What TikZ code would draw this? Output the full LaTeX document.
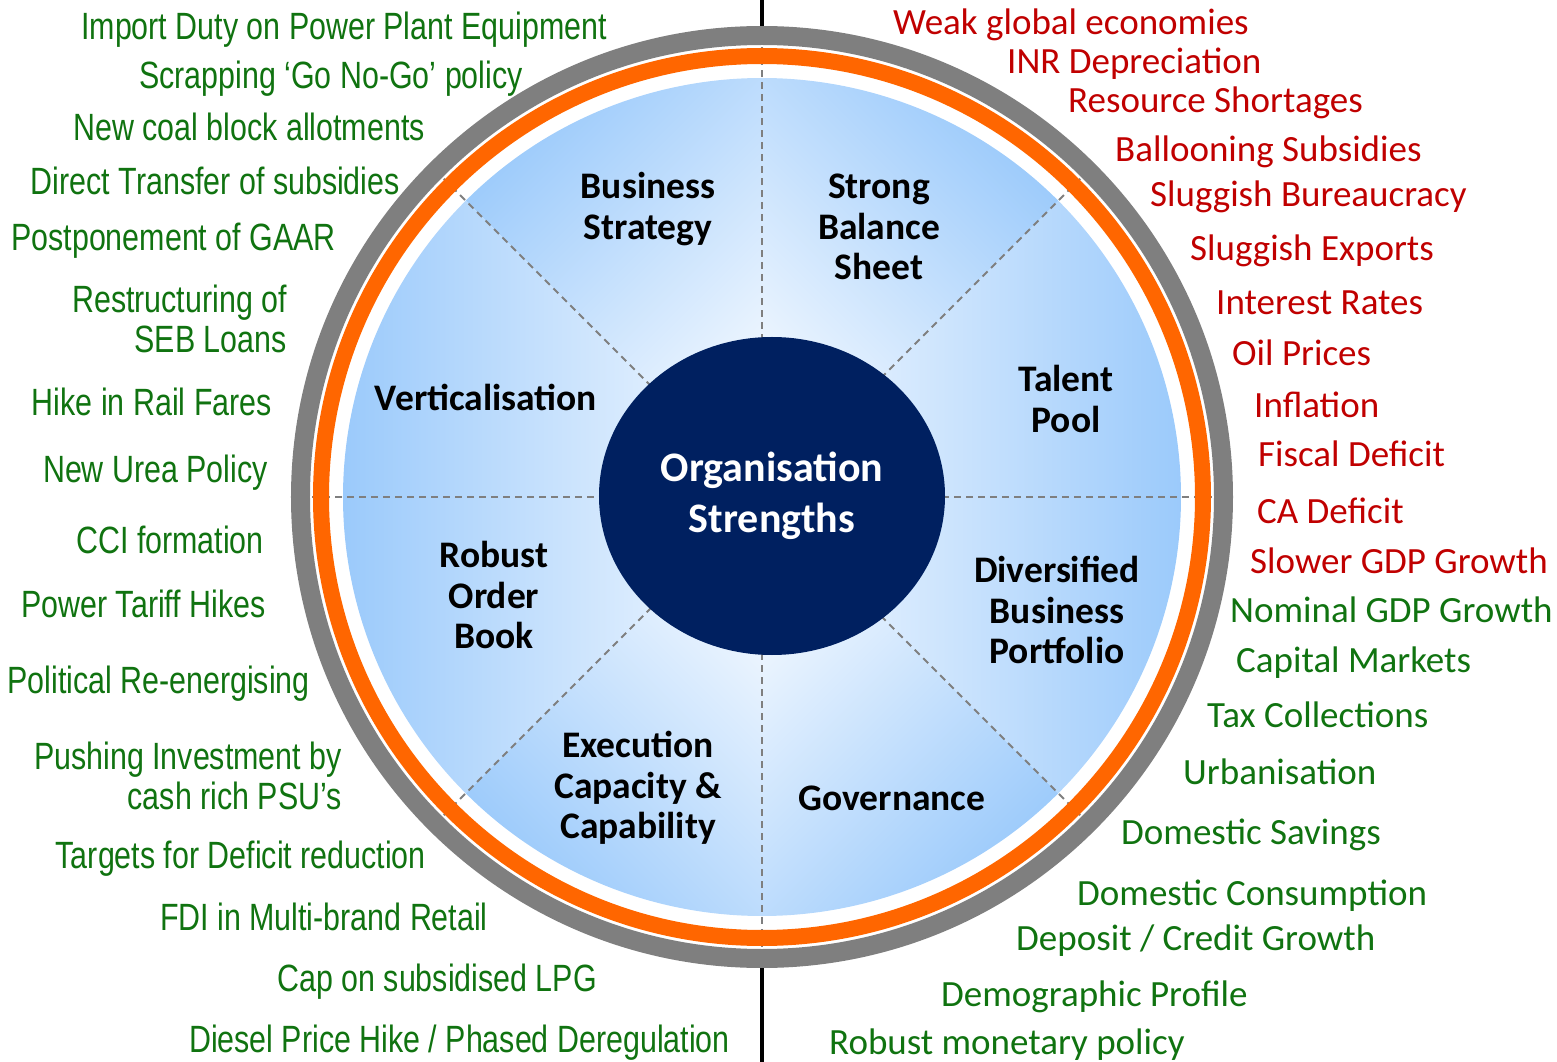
\documentclass[tikz,border=0pt]{standalone}
\usepackage{fontspec}
\setmainfont{Carlito}
\newfontfamily\narrowfont[FakeStretch=0.8]{Liberation Sans}
\usetikzlibrary{shapes.geometric}
\definecolor{ringgray}{RGB}{127,127,127}
\definecolor{ringorange}{RGB}{255,102,0}
\definecolor{skyblue}{RGB}{155,202,251}
\definecolor{paleblue}{RGB}{244,249,255}
\definecolor{coreblue}{RGB}{0,32,96}
\definecolor{riskred}{RGB}{192,0,0}
\definecolor{leafgreen}{RGB}{16,115,16}
\tikzset{policy/.style = {font=\narrowfont\fontsize{38}{40}\selectfont, text=leafgreen, anchor=base east, align=right, inner sep=0pt}}
\tikzset{risk/.style = {font=\fontsize{37}{40}\selectfont, text=riskred, anchor=base west, inner sep=0pt}}
\tikzset{driver/.style = {font=\fontsize{37}{40}\selectfont, text=leafgreen, anchor=base west, inner sep=0pt}}
\tikzset{strength/.style = {font=\bfseries\fontsize{37.5}{40.5}\selectfont, align=center, inner sep=0pt}}
\tikzset{core/.style = {ellipse, fill=coreblue, text=white, font=\bfseries\fontsize{42}{51}\selectfont, align=center, inner sep=0pt, minimum width=346pt, minimum height=318pt}}
\tikzset{divider/.style = {draw=ringgray, line width=2pt, dash pattern=on 7pt off 5pt}}

\begin{document}
\begin{tikzpicture}[x=1pt,y=1pt]
\useasboundingbox (-762,-565) rectangle (795,497);
\coordinate (o) at (0,0);
\coordinate (top) at (0,497);
\coordinate (bottom) at (0,-565);

% eight shaded sectors
\shade[left color=paleblue, right color=skyblue] (o) -- (0:419) arc[start angle=0, end angle=45, radius=419] -- cycle;
\shade[top color=skyblue, bottom color=paleblue, shading angle=-45] (o) -- (45:419) arc[start angle=45, end angle=90, radius=419] -- cycle;
\shade[top color=skyblue, bottom color=paleblue, shading angle=45] (o) -- (90:419) arc[start angle=90, end angle=135, radius=419] -- cycle;
\shade[left color=skyblue, right color=paleblue] (o) -- (135:419) arc[start angle=135, end angle=180, radius=419] -- cycle;
\shade[left color=skyblue, right color=paleblue] (o) -- (180:419) arc[start angle=180, end angle=225, radius=419] -- cycle;
\shade[top color=skyblue, bottom color=paleblue, shading angle=135] (o) -- (225:419) arc[start angle=225, end angle=270, radius=419] -- cycle;
\shade[top color=skyblue, bottom color=paleblue, shading angle=225] (o) -- (270:419) arc[start angle=270, end angle=315, radius=419] -- cycle;
\shade[left color=paleblue, right color=skyblue] (o) -- (315:419) arc[start angle=315, end angle=360, radius=419] -- cycle;

% dashed dividers
\draw[divider] (o) -- (0:450);
\draw[divider] (o) -- (45:450);
\draw[divider] (o) -- (90:450);
\draw[divider] (o) -- (135:450);
\draw[divider] (o) -- (180:450);
\draw[divider] (o) -- (225:450);
\draw[divider] (o) -- (270:450);
\draw[divider] (o) -- (315:450);

% rings
\draw[ringorange, line width=16pt] (o) circle[radius=441];
\draw[ringgray, line width=19pt] (o) circle[radius=461.5];
\draw[black, line width=3.5pt] (top) -- (0,471);
\draw[black, line width=3.5pt] (0,-471) -- (bottom);

\node[core] (c) at (10,1) {Organisation\\Strengths};

\node[strength] (s1) at (304,98) {Talent\\Pool};
\node[strength] (s2) at (117,270) {Strong\\Balance\\Sheet};
\node[strength] (s3) at (-114,288) {Business\\Strategy};
\node[strength] (s4) at (-276,100) {Verticalisation};
\node[strength] (s5) at (-268,-98) {Robust\\Order\\Book};
\node[strength] (s6) at (-124,-291) {Execution\\Capacity \&\\Capability};
\node[strength] (s7) at (130,-301) {Governance};
\node[strength] (s8) at (295,-113) {Diversified\\Business\\Portfolio};

% policy moves
\node[policy] (p1) at (-155,457.5) {Import Duty on Power Plant Equipment};
\node[policy] (p2) at (-239,408.5) {Scrapping ‘Go No-Go’ policy};
\node[policy] (p3) at (-337,356.5) {New coal block allotments};
\node[policy] (p4) at (-362,302.5) {Direct Transfer of subsidies};
\node[policy] (p5) at (-426,246.5) {Postponement of GAAR};
\node[policy] (p6) at (-475,144.5) {Restructuring of\\SEB Loans};
\node[policy] (p7) at (-490,81.5) {Hike in Rail Fares};
\node[policy] (p8) at (-494,14.5) {New Urea Policy};
\node[policy] (p9) at (-498,-56.5) {CCI formation};
\node[policy] (p10) at (-496,-120.5) {Power Tariff Hikes};
\node[policy] (p11) at (-452,-196.5) {Political Re-energising};
\node[policy] (p12) at (-420,-312.5) {Pushing Investment by\\cash rich PSU’s};
\node[policy] (p13) at (-336,-371.5) {Targets for Deficit reduction};
\node[policy] (p14) at (-274,-433.5) {FDI in Multi-brand Retail};
\node[policy] (p15) at (-165,-494.5) {Cap on subsidised LPG};
\node[policy] (p16) at (-32,-555.5) {Diesel Price Hike / Phased Deregulation};

% headwinds
\node[risk] (r1) at (131,462.5) {Weak global economies};
\node[risk] (r2) at (245,423.5) {INR Depreciation};
\node[risk] (r3) at (306,384.5) {Resource Shortages};
\node[risk] (r4) at (353,335.5) {Ballooning Subsidies};
\node[risk] (r5) at (388,290.5) {Sluggish Bureaucracy};
\node[risk] (r6) at (428,236.5) {Sluggish Exports};
\node[risk] (r7) at (454,182.5) {Interest Rates};
\node[risk] (r8) at (470,131.5) {Oil Prices};
\node[risk] (r9) at (492,79.5) {Inflation};
\node[risk] (r10) at (496,30.5) {Fiscal Deficit};
\node[risk] (r11) at (495,-26.5) {CA Deficit};
\node[risk] (r12) at (488,-76.5) {Slower GDP Growth};

% tailwinds
\node[driver] (g1) at (468,-125.5) {Nominal GDP Growth};
\node[driver] (g2) at (474,-175.5) {Capital Markets};
\node[driver] (g3) at (445,-230.5) {Tax Collections};
\node[driver] (g4) at (421,-287.5) {Urbanisation};
\node[driver] (g5) at (359,-347.5) {Domestic Savings};
\node[driver] (g6) at (315,-408.5) {Domestic Consumption};
\node[driver] (g7) at (254,-453.5) {Deposit / Credit Growth};
\node[driver] (g8) at (179,-509.5) {Demographic Profile};
\node[driver] (g9) at (67,-557.5) {Robust monetary policy};
\end{tikzpicture}
\end{document}
